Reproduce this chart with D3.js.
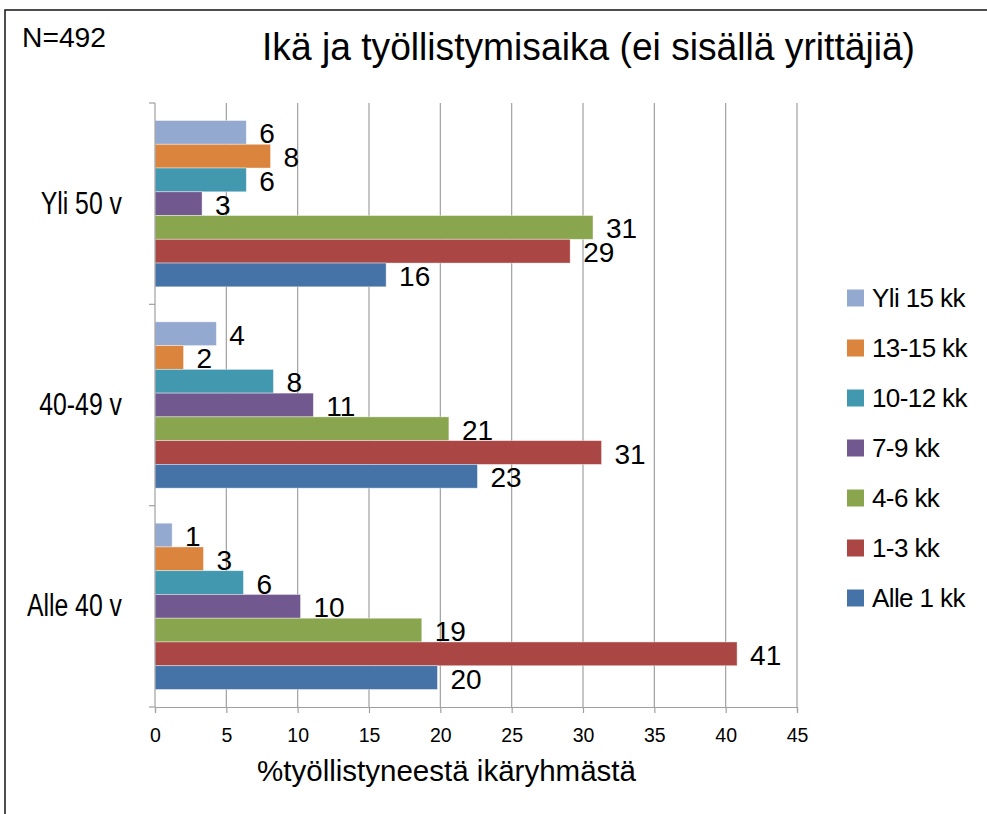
<!DOCTYPE html>
<html>
<head>
<meta charset="utf-8">
<script src="https://cdn.jsdelivr.net/npm/d3@7"></script>
<style>
  body { margin: 0; background: #fff; }
  svg { font-family: "Liberation Sans", Arial, sans-serif; }
</style>
</head>
<body>
<svg id="chart" width="987" height="814"></svg>
<script>
//
// Data
//

var ageGroups = ['Yli 50 v', '40-49 v', 'Alle 40 v']
// top to bottom inside each group
var durations = ['Yli 15 kk', '13-15 kk', '10-12 kk', '7-9 kk', '4-6 kk', '1-3 kk', 'Alle 1 kk']
var yli15 = [6.4, 4.3, 1.2]
var kk13to15 = [8.1, 2.0, 3.4]
var kk10to12 = [6.4, 8.3, 6.2]
var kk7to9 = [3.3, 11.1, 10.2]
var kk4to6 = [30.7, 20.6, 18.7]
var kk1to3 = [29.1, 31.3, 40.8]
var alle1 = [16.2, 22.6, 19.8]
var xTicks = [0, 5, 10, 15, 20, 25, 30, 35, 40, 45]

var colors = ['#93a9cf', '#db843d', '#4198af', '#71588f', '#89a54e', '#aa4643', '#4572a7']

var seriesValues = [yli15, kk13to15, kk10to12, kk7to9, kk4to6, kk1to3, alle1]

//
// Layout
//

var plot = { left: 155, right: 797, top: 103, bottom: 707 }
var svg = d3.select('#chart')

// outer frame
svg.append('rect')
  .attr('x', 5).attr('y', 10)
  .attr('width', 1000).attr('height', 820)
  .attr('fill', 'none')
  .attr('stroke', '#222')
  .attr('stroke-width', 1.6)

svg.append('text')
  .attr('x', 22).attr('y', 47)
  .attr('font-size', 27)
  .attr('textLength', 84).attr('lengthAdjust', 'spacingAndGlyphs')
  .text('N=492')

svg.append('text')
  .attr('x', 262).attr('y', 60)
  .attr('font-size', 38)
  .attr('textLength', 653).attr('lengthAdjust', 'spacingAndGlyphs')
  .text('Ikä ja työllistymisaika (ei sisällä yrittäjiä)')

//
// Scales
//

var x = d3.scaleLinear()
  .domain([0, 45])
  .range([plot.left, plot.right])

var y0 = d3.scaleBand()
  .domain(ageGroups)
  .range([plot.top, plot.bottom])
  .paddingInner(0.174)
  .paddingOuter(0.087)

var y1 = d3.scaleBand()
  .domain(durations)
  .range([0, y0.bandwidth()])

// gridlines
svg.append('g')
  .selectAll('line')
  .data(xTicks.slice(1))
  .enter()
  .append('line')
  .attr('x1', d => x(d)).attr('x2', d => x(d))
  .attr('y1', plot.top).attr('y2', plot.bottom)
  .attr('stroke', '#a0a0a0')
  .attr('stroke-width', 1.2)

// bars
var bars = []
seriesValues.forEach(function(vals, i) {
  vals.forEach(function(v, j) {
    bars.push({ group: ageGroups[j], dur: durations[i], value: v, color: colors[i] })
  })
})

svg.append('g')
  .selectAll('rect')
  .data(bars)
  .enter()
  .append('rect')
  .attr('x', x(0))
  .attr('y', d => y0(d.group) + y1(d.dur))
  .attr('width', d => x(d.value) - x(0))
  .attr('height', y1.bandwidth())
  .attr('fill', d => d.color)
  .attr('stroke', '#fff')
  .attr('stroke-opacity', 0.5)
  .attr('stroke-width', 0.8)

svg.append('g')
  .selectAll('text')
  .data(bars)
  .enter()
  .append('text')
  .attr('x', d => x(d.value) + 13)
  .attr('y', d => y0(d.group) + y1(d.dur) + y1.bandwidth() / 2 + 11)
  .attr('font-size', 28)
  .text(d => d3.format('.0f')(d.value))

//
// Axes
//

var xAxis = svg.append('g')
  .attr('transform', `translate(0, ${plot.bottom})`)
  .call(d3.axisBottom(x).tickValues(xTicks).tickSize(6).tickPadding(15))
xAxis.select('.domain').attr('stroke', '#a0a0a0').attr('stroke-width', 1.2)
xAxis.selectAll('.tick line').attr('stroke', '#a0a0a0').attr('stroke-width', 1.2)
xAxis.selectAll('.tick text')
  .attr('font-size', 19.5)
  .attr('font-family', '"Liberation Sans", Arial, sans-serif')
  .attr('fill', '#000')

// category axis with ticks at band borders
var yAxis = svg.append('g')
yAxis.append('line')
  .attr('x1', plot.left).attr('x2', plot.left)
  .attr('y1', plot.top).attr('y2', plot.bottom)
  .attr('stroke', '#a0a0a0').attr('stroke-width', 1.2)
var step = y0.step()
yAxis.selectAll('.cat-tick')
  .data(d3.range(ageGroups.length + 1))
  .enter()
  .append('line')
  .attr('x1', plot.left - 6).attr('x2', plot.left)
  .attr('y1', i => plot.top + i * step).attr('y2', i => plot.top + i * step)
  .attr('stroke', '#a0a0a0').attr('stroke-width', 1.2)
yAxis.selectAll('text')
  .data(ageGroups)
  .enter()
  .append('text')
  .attr('x', 122)
  .attr('y', d => y0(d) + y0.bandwidth() / 2 + 10)
  .attr('text-anchor', 'end')
  .attr('font-size', 31)
  .text(d => d)
  .each(function() {
    // narrow glyphs like the original
    var w = this.getComputedTextLength()
    d3.select(this).attr('textLength', w * 0.8).attr('lengthAdjust', 'spacingAndGlyphs')
  })

svg.append('text')
  .attr('x', 257).attr('y', 781)
  .attr('font-size', 29)
  .attr('textLength', 379).attr('lengthAdjust', 'spacingAndGlyphs')
  .text('%työllistyneestä ikäryhmästä')

//
// Legend
//

var legend = svg.append('g')
  .selectAll('g')
  .data(durations)
  .enter()
  .append('g')
  .attr('transform', (d, i) => `translate(847, ${298 + i * 50})`)

legend.append('rect')
  .attr('x', 0).attr('y', -8.5)
  .attr('width', 17).attr('height', 17)
  .attr('fill', (d, i) => colors[i])

legend.append('text')
  .attr('x', 25).attr('y', 9)
  .attr('font-size', 26)
  .attr('letter-spacing', -0.6)
  .text(d => d)
</script>
</body>
</html>
